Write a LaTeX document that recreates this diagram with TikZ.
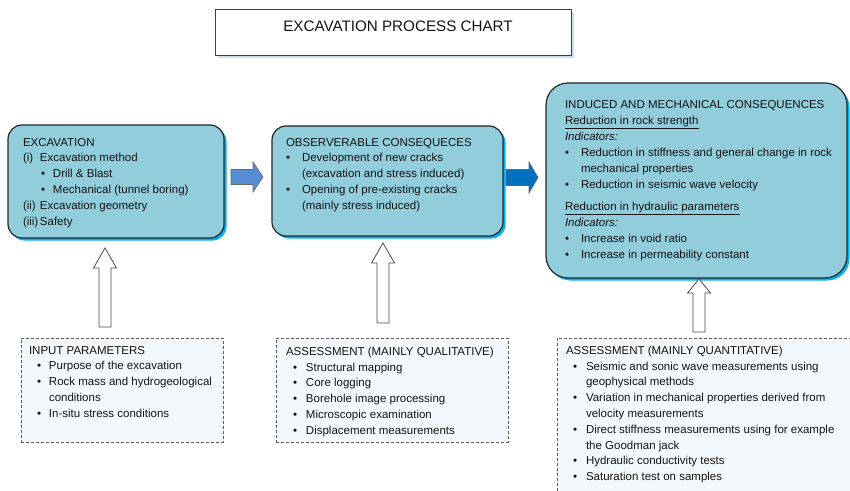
\documentclass[tikz,border=0pt]{standalone}
\usepackage{fontspec}
\setmainfont{Liberation Sans}
\usetikzlibrary{shadows}

\definecolor{boxfill}{RGB}{146,205,220}
\definecolor{boxshadow}{RGB}{0,176,240}
\definecolor{titleshadow}{RGB}{195,225,242}
\definecolor{notefill}{RGB}{242,248,252}
\definecolor{noteline}{RGB}{90,90,90}
\definecolor{arrowA}{RGB}{85,142,213}
\definecolor{arrowB}{RGB}{0,112,192}
\definecolor{textcol}{RGB}{20,20,20}

% bullet: indent, then a fixed-width slot holding the bullet
\newcommand\blt[2]{\hspace*{#1}\makebox[#2][l]{\textbullet}}

\tikzset{
  every node/.style={inner sep=0pt, outer sep=0pt},
  titlebox/.style={draw=black!75, line width=0.9bp, fill=white, anchor=north west,
    drop shadow={shadow xshift=3bp, shadow yshift=-3bp, fill=titleshadow, opacity=1}},
  stagebox/.style={draw=black!85, line width=1.2bp, fill=boxfill, anchor=north west,
    rounded corners=14bp,
    drop shadow={shadow xshift=2.5bp, shadow yshift=-2.5bp, fill=boxshadow, opacity=1}},
  notebox/.style={draw=noteline, line width=0.8bp, dash pattern=on 3bp off 2bp,
    fill=notefill, anchor=north west},
  boxtext/.style={anchor=north west, align=left, text=textcol,
    font=\fontsize{11.5bp}{15.8bp}\selectfont},
  hollowarrow/.style={draw=black!70, line width=0.8bp, fill=white, line join=miter},
  blockarrow/.style={draw=black!60, line width=0.6bp, line join=miter},
}

\begin{document}
\begin{tikzpicture}[x=1bp, y=-1bp]
\useasboundingbox (0,0) rectangle (850,491);
\fill[white] (0,0) rectangle (850,491);
\clip (0,0) rectangle (850,491);

% heading
\node[titlebox, minimum width=356bp, minimum height=46bp] (title) at (215,9) {};
\node[text=textcol, font=\fontsize{15.2bp}{18bp}\selectfont] (titletext) at (398,26.5)
  {EXCAVATION PROCESS CHART};

% stage boxes
\node[stagebox, minimum width=216bp, minimum height=113bp] (exc) at (8,125) {};
\node[stagebox, minimum width=231bp, minimum height=110bp] (obs) at (272,126) {};
\node[stagebox, rounded corners=22bp, minimum width=301bp, minimum height=195bp] (ind) at (546,83) {};

\node[boxtext] (exctext) at (23,138) {%
  EXCAVATION\\
  \makebox[17bp][l]{(i)}Excavation method\\
  \blt{18bp}{12bp}Drill \& Blast\\
  \blt{18bp}{12bp}Mechanical (tunnel boring)\\
  \makebox[17bp][l]{(ii)}Excavation geometry\\
  \makebox[17bp][l]{(iii)}Safety};

\node[boxtext] (obstext) at (286,138) {%
  OBSERVERABLE CONSEQUECES\\
  \blt{0bp}{16bp}Development of new cracks\\
  \hspace*{16bp}(excavation and stress induced)\\
  \blt{0bp}{16bp}Opening of pre-existing cracks\\
  \hspace*{16bp}(mainly stress induced)};

\node[boxtext, font=\fontsize{11.5bp}{16bp}\selectfont] (indtext) at (565,100.5) {%
  INDUCED AND MECHANICAL CONSEQUENCES\\
  \underline{Reduction in rock strength}\\
  \textit{Indicators:}\\
  \blt{0bp}{16bp}Reduction in stiffness and general change in rock\\
  \hspace*{16bp}mechanical properties\\
  \blt{0bp}{16bp}Reduction in seismic wave velocity\\[6bp]
  \underline{Reduction in hydraulic parameters}\\
  \textit{Indicators:}\\
  \blt{0bp}{16bp}Increase in void ratio\\
  \blt{0bp}{16bp}Increase in permeability constant};

% flow arrows between stages
\draw[blockarrow, fill=arrowA, shift={(231,177)}]
  (0,-7.5) -- (22,-7.5) -- (22,-15) -- (32,0) -- (22,15) -- (22,7.5) -- (0,7.5) -- cycle;
\draw[blockarrow, fill=arrowB, shift={(506,177.5)}]
  (0,-8) -- (23,-8) -- (23,-15.5) -- (32,0) -- (23,15.5) -- (23,8) -- (0,8) -- cycle;

% dashed information boxes
\node[notebox, minimum width=202bp, minimum height=104bp] (inp) at (21,338) {};
\node[notebox, minimum width=232bp, minimum height=104bp] (qual) at (276,338) {};
\node[notebox, minimum width=400bp, minimum height=200bp] (quant) at (557,338) {};

\node[boxtext] (inptext) at (29,346) {%
  INPUT PARAMETERS\\
  \blt{8bp}{12bp}Purpose of the excavation\\
  \blt{8bp}{12bp}Rock mass and hydrogeological\\
  \hspace*{20bp}conditions\\
  \blt{8bp}{12bp}In-situ stress conditions};

\node[boxtext] (qualtext) at (286,347) {%
  ASSESSMENT (MAINLY QUALITATIVE)\\
  \blt{7bp}{13bp}Structural mapping\\
  \blt{7bp}{13bp}Core logging\\
  \blt{7bp}{13bp}Borehole image processing\\
  \blt{7bp}{13bp}Microscopic examination\\
  \blt{7bp}{13bp}Displacement measurements};

\node[boxtext] (quanttext) at (566,346) {%
  ASSESSMENT (MAINLY QUANTITATIVE)\\
  \blt{7bp}{13bp}Seismic and sonic wave measurements using\\
  \hspace*{20bp}geophysical methods\\
  \blt{7bp}{13bp}Variation in mechanical properties derived from\\
  \hspace*{20bp}velocity measurements\\
  \blt{7bp}{13bp}Direct stiffness measurements using for example\\
  \hspace*{20bp}the Goodman jack\\
  \blt{7bp}{13bp}Hydraulic conductivity tests\\
  \blt{7bp}{13bp}Saturation test on samples};

% hollow arrows from the information boxes up to the stages
\draw[hollowarrow, shift={(105,248)}]
  (0,0) -- (11.5,20) -- (6,20) -- (6,79) -- (-6,79) -- (-6,20) -- (-11.5,20) -- cycle;
\draw[hollowarrow, shift={(383,243)}]
  (0,0) -- (11.5,20) -- (6,20) -- (6,80) -- (-6,80) -- (-6,20) -- (-11.5,20) -- cycle;
\draw[hollowarrow, shift={(699,279)}]
  (0,0) -- (11.5,14) -- (6,14) -- (6,53) -- (-6,53) -- (-6,14) -- (-11.5,14) -- cycle;
\end{tikzpicture}
\end{document}
